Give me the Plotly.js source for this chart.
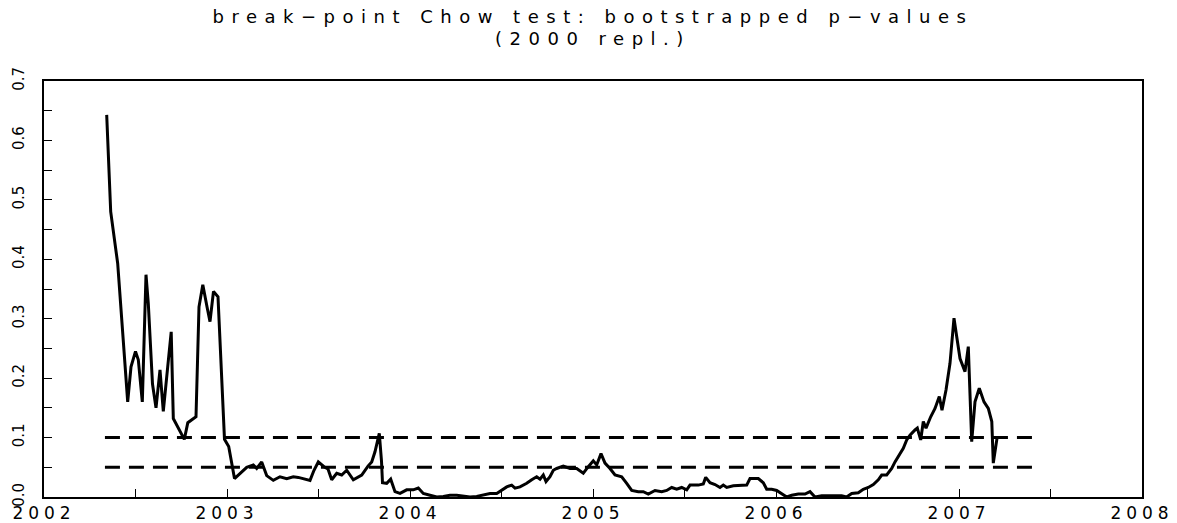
<!DOCTYPE html>
<html>
<head>
<meta charset="utf-8">
<script src="https://cdn.plot.ly/plotly-3.0.1.min.js"></script>
<style>
  html, body { margin: 0; padding: 0; background: #fff; }
  #chart { width: 1177px; height: 523px; }
  .gtitle, .annotation-text { letter-spacing: 7.5px; }
  .xtick text { letter-spacing: 5px; }
</style>
</head>
<body>
<div id="chart"></div>
<script>
// Bootstrapped p-values of the break-point Chow test (x in decimal years)
const dates = [
  2002.3426, 2002.3645, 2002.4027, 2002.4574, 2002.4754, 2002.5000, 2002.5153, 2002.5372, 2002.5574, 2002.5699,
  2002.5929, 2002.6120, 2002.6339, 2002.6519, 2002.6760, 2002.6951, 2002.7066, 2002.7377, 2002.7667, 2002.7858,
  2002.8306, 2002.8470, 2002.8678, 2002.8907, 2002.9071, 2002.9262, 2002.9508, 2002.9863, 2003.0093, 2003.0410,
  2003.0803, 2003.1077, 2003.1437, 2003.1623, 2003.1896, 2003.2169, 2003.2530, 2003.2896, 2003.3262, 2003.3623,
  2003.3896, 2003.4169, 2003.4536, 2003.4754, 2003.4989, 2003.5301, 2003.5519, 2003.5721, 2003.5995, 2003.6268,
  2003.6541, 2003.6902, 2003.7361, 2003.7705, 2003.7907, 2003.8087, 2003.8322, 2003.8443, 2003.8497, 2003.8727,
  2003.8945, 2003.9180, 2003.9454, 2003.9820, 2004.0180, 2004.0454, 2004.0727, 2004.1093, 2004.1459, 2004.1820,
  2004.2186, 2004.2552, 2004.2913, 2004.3279, 2004.3645, 2004.4005, 2004.4372, 2004.4738, 2004.5011, 2004.5284,
  2004.5557, 2004.5738, 2004.6011, 2004.6377, 2004.6650, 2004.6923, 2004.7104, 2004.7284, 2004.7432, 2004.7650,
  2004.7831, 2004.8016, 2004.8377, 2004.8743, 2004.9109, 2004.9470, 2004.9743, 2005.0016, 2005.0202, 2005.0437,
  2005.0656, 2005.0929, 2005.1202, 2005.1568, 2005.1842, 2005.2115, 2005.2475, 2005.2749, 2005.3022, 2005.3388,
  2005.3754, 2005.4027, 2005.4301, 2005.4574, 2005.4847, 2005.5120, 2005.5301, 2005.5754, 2005.6027, 2005.6158,
  2005.6393, 2005.6667, 2005.6940, 2005.7120, 2005.7306, 2005.7667, 2005.8399, 2005.8579, 2005.9033, 2005.9306,
  2005.9492, 2005.9765, 2006.0038, 2006.0311, 2006.0585, 2006.0858, 2006.1219, 2006.1585, 2006.1858, 2006.2131,
  2006.2497, 2006.3044, 2006.3590, 2006.3863, 2006.4137, 2006.4497, 2006.4770, 2006.5044, 2006.5317, 2006.5590,
  2006.5776, 2006.6049, 2006.6322, 2006.6503, 2006.6738, 2006.6956, 2006.7142, 2006.7322, 2006.7596, 2006.7721,
  2006.7907, 2006.8049, 2006.8197, 2006.8454, 2006.8689, 2006.8923, 2006.9071, 2006.9290, 2006.9508, 2006.9727,
  2006.9874, 2007.0055, 2007.0328, 2007.0508, 2007.0694, 2007.0874, 2007.1109, 2007.1366, 2007.1601, 2007.1792,
  2007.1874, 2007.2093
];
const pValues = [
  0.643, 0.480, 0.393, 0.160, 0.219, 0.245, 0.231, 0.160, 0.374, 0.326,
  0.190, 0.150, 0.214, 0.144, 0.219, 0.278, 0.132, 0.113, 0.097, 0.125,
  0.135, 0.320, 0.357, 0.320, 0.295, 0.346, 0.337, 0.097, 0.085, 0.031,
  0.043, 0.050, 0.054, 0.048, 0.059, 0.036, 0.028, 0.034, 0.031, 0.034,
  0.033, 0.031, 0.028, 0.045, 0.059, 0.051, 0.047, 0.029, 0.040, 0.037,
  0.045, 0.029, 0.037, 0.052, 0.059, 0.076, 0.107, 0.060, 0.024, 0.023,
  0.030, 0.009, 0.006, 0.012, 0.012, 0.015, 0.006, 0.003, 0.000, 0.001,
  0.003, 0.003, 0.002, 0.000, 0.001, 0.003, 0.006, 0.006, 0.012, 0.017,
  0.020, 0.015, 0.017, 0.023, 0.029, 0.034, 0.030, 0.037, 0.026, 0.034,
  0.045, 0.048, 0.052, 0.048, 0.048, 0.040, 0.051, 0.061, 0.054, 0.073,
  0.057, 0.048, 0.037, 0.034, 0.023, 0.011, 0.009, 0.009, 0.005, 0.011,
  0.009, 0.011, 0.016, 0.013, 0.016, 0.012, 0.020, 0.020, 0.022, 0.033,
  0.024, 0.021, 0.016, 0.020, 0.016, 0.019, 0.020, 0.031, 0.031, 0.024,
  0.013, 0.013, 0.011, 0.006, 0.000, 0.003, 0.005, 0.005, 0.009, 0.000,
  0.002, 0.002, 0.002, 0.000, 0.006, 0.007, 0.013, 0.016, 0.021, 0.029,
  0.037, 0.037, 0.048, 0.059, 0.072, 0.082, 0.096, 0.104, 0.113, 0.116,
  0.096, 0.127, 0.116, 0.135, 0.149, 0.169, 0.146, 0.180, 0.225, 0.301,
  0.270, 0.233, 0.211, 0.253, 0.093, 0.160, 0.183, 0.160, 0.149, 0.127,
  0.057, 0.102
];
// Critical levels (dashed reference lines) and their span
const critLevels = [0.10, 0.05];
const critSpan = [2002.333, 2007.432];
// Axis ticks
const yearTicks = [2002, 2003, 2004, 2005, 2006, 2007, 2008];
const yearLabels = ['2002', '2003', '2004', '2005', '2006', '2007', '2008'];
const titleLine1 = 'break\u2212point Chow test: bootstrapped p\u2212values';
const titleLine2 = '(2000 repl.)';

const traces = critLevels.map(lv => ({
  x: critSpan, y: [lv, lv], mode: 'lines', type: 'scatter',
  line: {color: 'black', width: 3, dash: '15px,9px'}, hoverinfo: 'skip'
}));
traces.push({
  x: dates, y: pValues, mode: 'lines', type: 'scatter',
  line: {color: 'black', width: 3}
});

const fontFam = 'DejaVu Sans, sans-serif';
const layout = {
  width: 1177, height: 523,
  margin: {l: 44, r: 35, t: 81, b: 26},
  paper_bgcolor: 'white', plot_bgcolor: 'white',
  showlegend: false,
  title: {
    text: titleLine1,
    font: {family: fontFam, size: 18, color: 'black'},
    x: 0.5, xref: 'paper', y: 0.9685, yref: 'container', yanchor: 'middle'
  },
  annotations: [{
    text: titleLine2, xref: 'paper', yref: 'paper', x: 0.5, y: 1.1022,
    xanchor: 'center', yanchor: 'middle', showarrow: false,
    font: {family: fontFam, size: 18, color: 'black'}
  }],
  xaxis: {
    range: [2002, 2008], tickmode: 'array', tickvals: yearTicks, ticktext: yearLabels,
    ticks: 'inside', ticklen: 8, tickwidth: 1, tickcolor: 'black',
    minor: {tickmode: 'linear', tick0: 2002, dtick: 0.5, ticks: 'inside', ticklen: 8, tickwidth: 1, tickcolor: 'black'},
    showline: true, linewidth: 2, linecolor: 'black', mirror: true,
    showgrid: false, zeroline: false, automargin: false,
    tickfont: {family: fontFam, size: 17, color: 'black'}
  },
  yaxis: {
    range: [0, 0.7], tickmode: 'linear', tick0: 0, dtick: 0.1, tickformat: '.1f',
    tickangle: -90, ticks: 'inside', ticklen: 8, tickwidth: 1, tickcolor: 'black',
    minor: {tickmode: 'linear', tick0: 0, dtick: 0.05, ticks: 'inside', ticklen: 8, tickwidth: 1, tickcolor: 'black'},
    showline: true, linewidth: 2, linecolor: 'black', mirror: true,
    showgrid: false, zeroline: false, automargin: false, ticklabelstandoff: 12,
    tickfont: {family: fontFam, size: 15, color: 'black'}
  }
};
Plotly.newPlot('chart', traces, layout, {displayModeBar: false, staticPlot: true});
</script>
</body>
</html>
